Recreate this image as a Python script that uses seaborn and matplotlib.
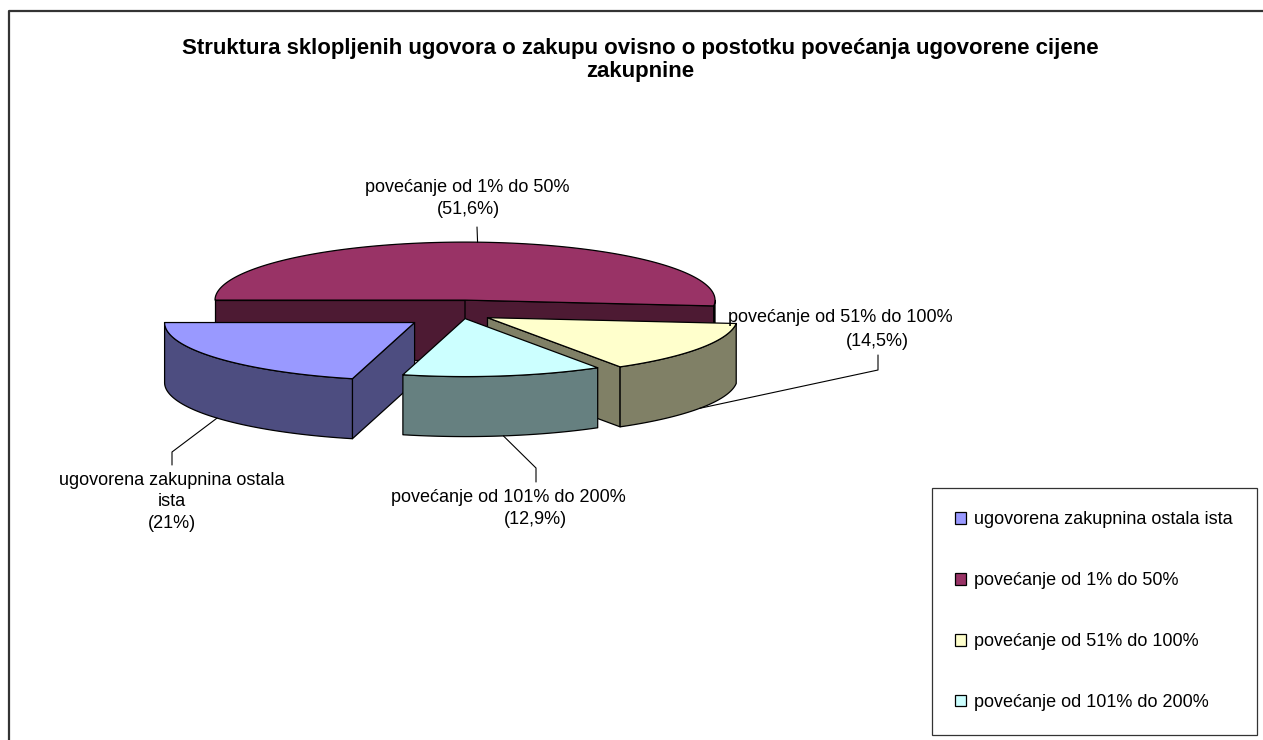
import numpy as np
import matplotlib
matplotlib.use("Agg")
import matplotlib.pyplot as plt
import seaborn as sns
from matplotlib.patches import Polygon, Patch

# ---------------- data ----------------
categories = [
    "ugovorena zakupnina ostala ista",
    "povećanje od 1% do 50%",
    "povećanje od 51% do 100%",
    "povećanje od 101% do 200%",
]
label_names = [
    "ugovorena zakupnina ostala\nista",
    "povećanje od 1% do 50%",
    "povećanje od 51% do 100%",
    "povećanje od 101% do 200%",
]
shares = [21.0, 51.6, 14.5, 12.9]
explode = [0.24, 0.24, 0.12, 0.08]
top_hex = ["#9999FF", "#993366", "#FFFFCC", "#CCFFFF"]
title = ("Struktura sklopljenih ugovora o zakupu ovisno o postotku povećanja ugovorene cijene\n"
         "zakupnine")

# ---------------- style ----------------
sns.set_theme(style="white")
plt.rcParams["font.family"] = ["Liberation Sans", "DejaVu Sans"]

top_colors = sns.color_palette(top_hex)
side_colors = [tuple(0.5 * np.array(c)) for c in top_colors]

W, H = 1263, 740
fig = plt.figure(figsize=(W / 100, H / 100), dpi=100)
ax = fig.add_axes([0, 0, 1, 1])
ax.set_xlim(0, W)
ax.set_ylim(H, 0)
ax.axis("off")

# chart frame (top and left visible)
ax.plot([9, 9, W], [H, 11, 11], color="#333333", lw=1.6, solid_capstyle="butt")

ax.text(640, 60, title, ha="center", va="center", fontsize=16, fontweight="bold",
        linespacing=1.1, color="black")

# ---------------- 3-D pie geometry ----------------
CX, CY = 462.0, 314.0
RX, RY, DEPTH = 250.0, 58.0, 60.0
EC = "black"
LW = 0.9


def pt(cx, cy, th, dz=0.0):
    return (cx + RX * np.cos(th), cy - RY * np.sin(th) + dz)


total = float(sum(shares))
start = np.pi + shares[0] / total * 2 * np.pi
slices = []
cum = 0.0
for i, v in enumerate(shares):
    a0 = start - cum / total * 2 * np.pi
    a1 = a0 - v / total * 2 * np.pi
    cum += v
    mid = 0.5 * (a0 + a1)
    cx = CX + explode[i] * RX * np.cos(mid)
    cy = CY - explode[i] * RY * np.sin(mid)
    slices.append(dict(i=i, a0=a0, a1=a1, mid=mid, cx=cx, cy=cy))


def draw_slice(s):
    i, a0, a1, cx, cy = s["i"], s["a0"], s["a1"], s["cx"], s["cy"]
    top, side = top_colors[i], side_colors[i]
    # radial faces
    for a, vis in ((a0, np.cos(a0) < 0), (a1, np.cos(a1) > 0)):
        if vis:
            p = [(cx, cy), pt(cx, cy, a), pt(cx, cy, a, DEPTH), (cx, cy + DEPTH)]
            ax.add_patch(Polygon(p, closed=True, fc=side, ec=EC, lw=LW, joinstyle="round"))
    # outer wall (front part only)
    th = np.linspace(a1, a0, 400)
    front = np.sin(th) <= 1e-9
    runs = []
    cur = []
    for t, f in zip(th, front):
        if f:
            cur.append(t)
        elif cur:
            runs.append(cur)
            cur = []
    if cur:
        runs.append(cur)
    for r in runs:
        if len(r) < 2:
            continue
        r = np.array(r)
        upper = [pt(cx, cy, t) for t in r]
        lower = [pt(cx, cy, t, DEPTH) for t in r[::-1]]
        ax.add_patch(Polygon(upper + lower, closed=True, fc=side, ec=EC, lw=LW, joinstyle="round"))
    # top face
    arc = [pt(cx, cy, t) for t in np.linspace(a0, a1, 300)]
    ax.add_patch(Polygon([(cx, cy)] + arc, closed=True, fc=top, ec=EC, lw=LW, joinstyle="round"))


for s in sorted(slices, key=lambda s: -np.sin(s["mid"])):
    draw_slice(s)

# ---------------- data labels with leader lines ----------------
def pct(v):
    return "({}%)".format(("%g" % v).replace(".", ","))

# per slice: (name position, percent position, leader elbow, leader end)
label_layout = [
    ((172, 491), (172, 524), (172, 452), (172, 465)),
    ((467, 187), (468, 210), None, (477, 227)),
    ((840, 318), (877, 341), (878, 370), (878, 355)),
    ((508, 498), (535, 519), (536, 468), (536, 482)),
]
for s in slices:
    i = s["i"]
    name_xy, pct_xy, elbow, end = label_layout[i]
    if np.sin(s["mid"]) > 0:
        start_pt = pt(s["cx"], s["cy"], s["mid"])
    else:
        start_pt = pt(s["cx"], s["cy"], s["mid"], DEPTH)
    xs = [start_pt[0]] + ([elbow[0]] if elbow else []) + [end[0]]
    ys = [start_pt[1]] + ([elbow[1]] if elbow else []) + [end[1]]
    ax.plot(xs, ys, color="black", lw=0.8)
    ax.text(name_xy[0], name_xy[1], label_names[i], ha="center", va="center",
            fontsize=13, linespacing=1.3, color="black")
    ax.text(pct_xy[0], pct_xy[1], pct(shares[i]), ha="center", va="center",
            fontsize=13, color="black")

# ---------------- legend ----------------
handles = [Patch(facecolor=top_colors[i], edgecolor="black", lw=0.9) for i in range(len(categories))]
leg = ax.legend(handles, categories, loc="upper left",
                bbox_to_anchor=(932 / W, 1 - 488 / H), bbox_transform=fig.transFigure,
                frameon=True, fancybox=False, fontsize=13, handlelength=0.6,
                handleheight=0.6, handletextpad=0.45, labelspacing=2.43,
                borderpad=1.3, borderaxespad=0, labelcolor="black")
leg.get_frame().set_edgecolor("black")
leg.get_frame().set_linewidth(0.9)

fig.savefig("out.png", dpi=100, facecolor="white")
